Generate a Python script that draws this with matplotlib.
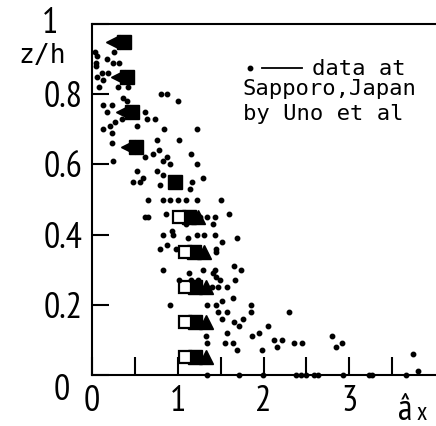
import matplotlib
matplotlib.use('Agg')
import matplotlib.pyplot as plt
from matplotlib.transforms import ScaledTranslation

# --- data ---
# small dots: measured data at Sapporo (Uno et al)
dot_x = [0.03, 0.06, 0.05, 0.26, 0.17, 0.24, 0.31, 0.05, 0.12, 0.19, 0.06, 0.13, 0.08, 0.30, 0.42,
         0.81, 0.88, 1.00, 0.36, 0.13, 0.23, 0.41, 0.17, 0.62, 0.35, 0.27, 0.21, 0.13, 0.23, 0.64,
         0.74, 0.52, 1.23, 0.84, 0.23, 0.76, 1.01, 0.62, 0.71, 0.78, 0.87, 1.16, 0.83, 0.91, 1.23,
         0.24, 0.52, 0.76, 0.83, 0.48, 0.56, 0.59, 0.79, 1.17, 1.30, 1.14,
         0.65, 0.83, 0.91, 1.00, 1.10, 1.23, 1.50,
         0.62, 0.65, 0.86, 1.26, 1.34, 1.43, 1.60, 1.41, 1.10, 0.93, 0.83, 0.94, 1.12, 1.23, 1.31,
         1.44, 0.88, 0.79, 0.98, 1.52, 1.69, 1.45, 1.45,
         0.83, 1.13, 1.29, 1.44, 1.66, 1.74, 1.41, 1.45, 1.49, 1.01, 1.15, 1.24, 1.67, 1.40, 1.47,
         1.57, 1.64, 0.91, 1.34, 1.45, 1.52, 1.86, 1.47, 1.57, 1.86, 1.52, 1.76, 1.66, 1.71, 1.57,
         1.87, 1.95, 1.33, 1.34, 1.55, 1.64, 1.69,
         2.05, 2.12, 2.21, 2.16, 1.98, 2.30, 2.36, 2.45, 2.80, 2.91, 2.84, 3.74,
         1.34, 1.72, 1.99, 2.38, 2.44, 2.50, 2.59, 2.64, 2.93, 3.23, 3.27, 3.66, 3.80]
dot_z = [0.92, 0.91, 0.89, 0.92, 0.90, 0.89, 0.89, 0.88, 0.86, 0.86, 0.85, 0.84, 0.82, 0.82, 0.82,
         0.80, 0.80, 0.78, 0.79, 0.77, 0.77, 0.78, 0.75, 0.75, 0.73, 0.72, 0.71, 0.70, 0.69, 0.73,
         0.73, 0.71, 0.70, 0.70, 0.66, 0.67, 0.67, 0.62, 0.63, 0.64, 0.62, 0.63, 0.61, 0.60, 0.60,
         0.61, 0.58, 0.58, 0.57, 0.55, 0.55, 0.56, 0.54, 0.55, 0.56, 0.53,
         0.50, 0.50, 0.50, 0.50, 0.50, 0.50, 0.50,
         0.45, 0.45, 0.46, 0.45, 0.45, 0.45, 0.46, 0.43, 0.43, 0.41, 0.40, 0.40, 0.39, 0.40, 0.40,
         0.40, 0.37, 0.36, 0.36, 0.38, 0.39, 0.36, 0.35,
         0.30, 0.29, 0.30, 0.30, 0.31, 0.30, 0.29, 0.28, 0.27, 0.27, 0.27, 0.27, 0.27, 0.25, 0.25,
         0.25, 0.22, 0.20, 0.20, 0.20, 0.21, 0.20, 0.18, 0.18, 0.18, 0.16, 0.16, 0.15, 0.14, 0.12,
         0.11, 0.12, 0.11, 0.09, 0.09, 0.09, 0.07,
         0.14, 0.10, 0.10, 0.08, 0.07, 0.18, 0.09, 0.09, 0.11, 0.09, 0.08, 0.06,
         0.0, 0.0, 0.0, 0.0, 0.0, 0.0, 0.0, 0.0, 0.0, 0.0, 0.0, 0.0, 0.01]

# computed profiles (bold symbols)
rows_z = [0.95, 0.85, 0.75, 0.65, 0.55, 0.45, 0.35, 0.25, 0.15, 0.05]
fill_sq_x = [0.37, 0.41, 0.47, 0.51, 0.97, 1.13, 1.19, 1.20, 1.20, 1.20]
tri_left_z = [0.95, 0.85, 0.75, 0.65]
tri_left_x = [0.24, 0.30, 0.36, 0.42]
low_z = [0.45, 0.35, 0.25, 0.15, 0.05]
open_sq_x = [1.02, 1.08, 1.08, 1.08, 1.08]
tri_up_x = [1.24, 1.31, 1.33, 1.33, 1.33]

x_ticks = [0, 0.5, 1, 1.5, 2, 2.5, 3, 3.5]
x_labels = ['0', '', '1', '', '2', '', '3', '']
y_ticks = [0, 0.2, 0.4, 0.6, 0.8, 1.0]
y_labels = ['0', '0.2', '0.4', '0.6', '0.8', '1']

legend_lines = ['data at', 'Sapporo,Japan', 'by Uno et al']

tick_font = ['PT Sans Narrow', 'Archivo Narrow', 'DejaVu Sans']
text_font = ['DejaVu Sans Mono', 'DejaVu Sans']

fig = plt.figure(figsize=(4.36, 4.26), dpi=100)
ax = fig.add_axes([92 / 436, 51 / 426, 343 / 436, 351 / 426])

# symbols
ax.plot(tri_left_x, tri_left_z, '<', color='black', ms=10, ls='none')
ax.plot(fill_sq_x, rows_z, 's', color='black', ms=9.5, ls='none')
ax.plot(tri_up_x, low_z, '^', color='black', ms=9.5, ls='none')
ax.plot(open_sq_x, low_z, 's', mfc='white', mec='black', mew=1.6, ms=8, ls='none')

# measured dots
ax.plot(dot_x, dot_z, 'o', color='black', ms=3.2, ls='none', clip_on=False)

ax.set_xlim(0, 4)
ax.set_ylim(0, 1)

ax.set_xticks(x_ticks)
ax.set_xticklabels(x_labels, family=tick_font, fontsize=26)
ax.set_yticks(y_ticks)
ax.set_yticklabels(y_labels, family=tick_font, fontsize=26)
ax.tick_params(axis='x', direction='in', length=13, width=1.5, pad=7)
ax.tick_params(axis='y', direction='in', length=12, width=1.5, pad=7)

# hand-placed labels at the ends of the y axis
ylabs = ax.get_yticklabels()
ylabs[0].set_transform(ylabs[0].get_transform() + ScaledTranslation(-0.12, -0.12, fig.dpi_scale_trans))
ylabs[-1].set_transform(ylabs[-1].get_transform() + ScaledTranslation(-0.24, 0.04, fig.dpi_scale_trans))

for side in ['left', 'bottom', 'top']:
    ax.spines[side].set_linewidth(1.5)
ax.spines['right'].set_visible(False)

# axis names
ax.text(-0.146, 0.91, 'z/h', transform=ax.transAxes, family=text_font,
        fontsize=19, ha='center', va='center')
ax.text(3.57, -0.129, 'â', family=tick_font, fontsize=26, ha='left', va='baseline', clip_on=False)
ax.text(3.78, -0.129, 'x', family=tick_font, fontsize=18, ha='left', va='baseline', clip_on=False)

# legend note
ax.plot([1.84], [0.874], 'o', color='black', ms=3.2)
ax.plot([1.98, 2.45], [0.874, 0.874], color='black', lw=1.3)
ax.text(2.56, 0.854, legend_lines[0], family=text_font, fontsize=16, va='baseline')
ax.text(1.76, 0.797, legend_lines[1], family=text_font, fontsize=16, va='baseline')
ax.text(1.76, 0.726, legend_lines[2], family=text_font, fontsize=16, va='baseline')

fig.savefig('out.png', dpi=100)
